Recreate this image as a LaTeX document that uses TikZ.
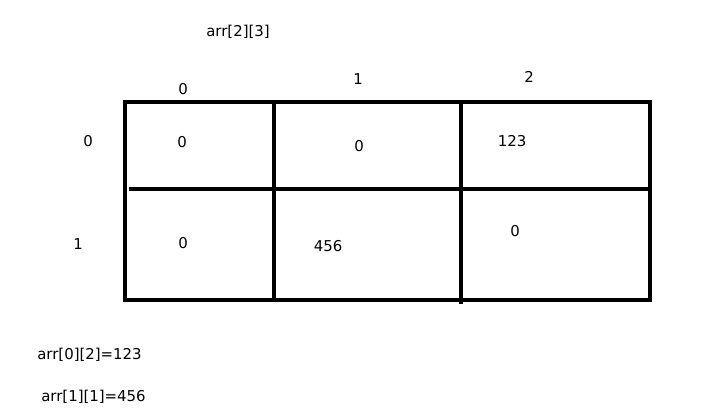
\documentclass[tikz,border=0pt]{standalone}
\usepackage{fontspec}
\setmainfont{DejaVu Sans}
\begin{document}
\begin{tikzpicture}[x=0.75pt,y=-0.75pt]
\tikzstyle{t}=[inner sep=0pt,font=\fontsize{11.2}{13}\selectfont]
\tikzstyle{grid}=[line width=3pt]
\useasboundingbox[fill=white] (0,0) rectangle (712,416);
% the array
\draw[grid] (125,102) rectangle (650,300);
\draw[grid] (129,189) -- (650,189);
\draw[grid] (274,102) -- (274,300);
\draw[grid] (461,102) -- (461,304);
\node[t] (title) at (238,32) {arr[2][3]};
\node[t] (c0) at (183,89) {0};
\node[t] (c1) at (358,79) {1};
\node[t] (c2) at (529,77) {2};
\node[t] (r0) at (88,141) {0};
\node[t] (r1) at (78,244) {1};
\node[t] (a00) at (182,142) {0};
\node[t] (a01) at (359,146) {0};
\node[t] (a02) at (512,141) {123};
\node[t] (a10) at (183,243) {0};
\node[t] (a11) at (328,246) {456};
\node[t] (a12) at (515,231) {0};
\node[t,anchor=west] (n1) at (37,355) {arr[0][2]=123};
\node[t,anchor=west] (n2) at (41,397) {arr[1][1]=456};
\end{tikzpicture}
\end{document}
